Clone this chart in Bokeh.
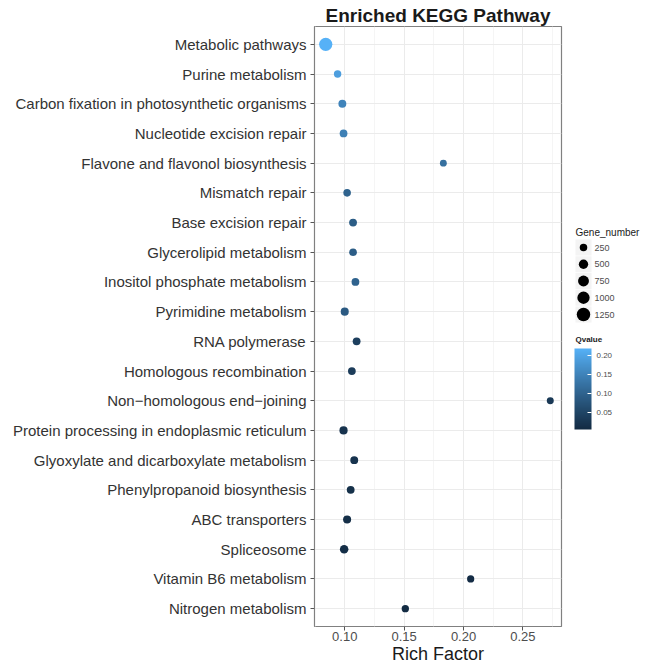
import numpy as np
from bokeh.plotting import figure
from bokeh.layouts import row
from bokeh.models import (FactorRange, Range1d, LinearColorMapper, ColorBar, FixedTicker,
                          PrintfTickFormatter, ColumnDataSource)
from bokeh.core.properties import value
from bokeh.embed import file_html
from bokeh.resources import INLINE

# ---------------- data ----------------
pathways = [
    "Metabolic pathways",
    "Purine metabolism",
    "Carbon fixation in photosynthetic organisms",
    "Nucleotide excision repair",
    "Flavone and flavonol biosynthesis",
    "Mismatch repair",
    "Base excision repair",
    "Glycerolipid metabolism",
    "Inositol phosphate metabolism",
    "Pyrimidine metabolism",
    "RNA polymerase",
    "Homologous recombination",
    "Non\u2212homologous end\u2212joining",
    "Protein processing in endoplasmic reticulum",
    "Glyoxylate and dicarboxylate metabolism",
    "Phenylpropanoid biosynthesis",
    "ABC transporters",
    "Spliceosome",
    "Vitamin B6 metabolism",
    "Nitrogen metabolism",
]
rich_factor = [0.084, 0.094, 0.098, 0.099, 0.183, 0.102, 0.107, 0.107, 0.109, 0.100,
               0.110, 0.106, 0.273, 0.099, 0.108, 0.105, 0.102, 0.0995, 0.206, 0.151]
gene_number = [1200, 240, 300, 280, 180, 260, 290, 270, 280, 320,
               290, 280, 190, 340, 300, 290, 320, 380, 220, 230]
qvalue = [0.218, 0.190, 0.150, 0.145, 0.120, 0.100, 0.090, 0.090, 0.100, 0.085,
          0.040, 0.035, 0.030, 0.020, 0.020, 0.015, 0.012, 0.010, 0.008, 0.005]

x_ticks = [0.10, 0.15, 0.20, 0.25]
x_minor = [0.075, 0.125, 0.175, 0.225, 0.275]
size_breaks = [250, 500, 750, 1000, 1250]
q_breaks = [0.05, 0.10, 0.15, 0.20]

FONT = "Liberation Sans"

# ---------------- colour ramp (CIELAB, like ggplot's default gradient) ----------------
def hex2rgb(h):
    h = h.lstrip("#")
    return np.array([int(h[i:i + 2], 16) for i in (0, 2, 4)]) / 255.0

M = np.array([[0.4124564, 0.3575761, 0.1804375],
              [0.2126729, 0.7151522, 0.0721750],
              [0.0193339, 0.1191920, 0.9503041]])
WHITE = np.array([0.95047, 1.0, 1.08883])

def rgb2lab(c):
    lin = np.where(c <= 0.04045, c / 12.92, ((c + 0.055) / 1.055) ** 2.4)
    xyz = M @ lin / WHITE
    f = np.where(xyz > (6 / 29) ** 3, np.cbrt(xyz), xyz / (3 * (6 / 29) ** 2) + 4 / 29)
    return np.array([116 * f[1] - 16, 500 * (f[0] - f[1]), 200 * (f[1] - f[2])])

def lab2hex(lab):
    L, a, b = lab
    fy = (L + 16) / 116
    fx = fy + a / 500
    fz = fy - b / 200
    f = np.array([fx, fy, fz])
    xyz = np.where(f > 6 / 29, f ** 3, 3 * (6 / 29) ** 2 * (f - 4 / 29)) * WHITE
    lin = np.clip(np.linalg.solve(M, xyz), 0, 1)
    c = np.where(lin <= 0.0031308, 12.92 * lin, 1.055 * lin ** (1 / 2.4) - 0.055)
    c = np.clip(np.round(c * 255), 0, 255).astype(int)
    return "#%02x%02x%02x" % tuple(c)

lo, hi = rgb2lab(hex2rgb("#132B43")), rgb2lab(hex2rgb("#56B1F7"))
palette = [lab2hex(lo + (hi - lo) * t) for t in np.linspace(0, 1, 256)]
mapper = LinearColorMapper(palette=palette, low=min(qvalue), high=max(qvalue))

def dot_size(g):
    return np.sqrt(24.75 + 0.126 * np.asarray(g, dtype=float))

# ---------------- geometry ----------------
H = 666
W_MAIN = 567
W_SIDE = 83
TOP = 26          # frame top
BOTTOM = 40       # space below frame (ticks, tick labels, axis title)
LEFT = 314
RIGHT = 6
frame_top, frame_bot = TOP, H - BOTTOM

# ---------------- main plot ----------------
xmin, xmax = min(rich_factor), max(rich_factor)
pad = (xmax - xmin) * 0.05
factors = list(reversed(pathways))

p = figure(width=W_MAIN, height=H, output_backend="svg", toolbar_location=None,
           y_range=FactorRange(factors=factors, range_padding=0.1, range_padding_units="absolute"),
           x_range=Range1d(xmin - pad, xmax + pad),
           min_border_left=LEFT, min_border_right=RIGHT,
           min_border_bottom=BOTTOM, min_border_top=TOP,
           title="Enriched KEGG Pathway")
p.title.align = "center"
p.title.text_font = FONT
p.title.text_font_size = "19px"
p.title.text_font_style = "bold"
p.title.text_color = "#1a1a1a"
p.title.standoff = 1
p.title.offset = 0

src = ColumnDataSource(dict(path=pathways, rf=rich_factor, q=qvalue,
                            sz=dot_size(gene_number)))
p.scatter(x="rf", y="path", size="sz", source=src, line_color=None,
          fill_color={"field": "q", "transform": mapper})

p.background_fill_color = "white"
p.border_fill_color = "white"
p.outline_line_color = "#808080"
p.outline_line_width = 1.2

p.xaxis.ticker = FixedTicker(ticks=x_ticks, minor_ticks=x_minor)
p.xaxis.formatter = PrintfTickFormatter(format="%.2f")
p.xaxis.major_label_text_font = FONT
p.xaxis.major_label_text_font_size = "13px"
p.xaxis.major_label_text_color = "#4d4d4d"
p.xaxis.major_label_standoff = 1
p.xaxis.axis_label = "Rich Factor"
p.xaxis.axis_label_text_font = FONT
p.xaxis.axis_label_text_font_size = "18px"
p.xaxis.axis_label_text_font_style = "normal"
p.xaxis.axis_label_text_color = "#1a1a1a"
p.xaxis.axis_label_standoff = 0

p.yaxis.major_label_text_font = FONT
p.yaxis.major_label_text_font_size = "15px"
p.yaxis.major_label_text_color = "#333333"
p.yaxis.major_label_standoff = 4

for ax in (p.xaxis, p.yaxis):
    ax.axis_line_color = None
    ax.major_tick_line_color = "#555555"
    ax.major_tick_out = 4
    ax.major_tick_in = 0
    ax.minor_tick_line_color = None

p.xgrid.grid_line_color = "#ebebeb"
p.xgrid.minor_grid_line_color = "#f5f5f5"
p.ygrid.grid_line_color = "#ebebeb"

# ---------------- legend panel (data coordinates = page pixels) ----------------
s = figure(width=W_SIDE, height=H, output_backend="svg", toolbar_location=None,
           x_range=Range1d(W_MAIN, W_MAIN + W_SIDE), y_range=Range1d(frame_bot, frame_top),
           min_border_left=0, min_border_right=0,
           min_border_top=TOP, min_border_bottom=BOTTOM)
s.axis.visible = False
s.grid.visible = False
s.outline_line_color = None
s.background_fill_color = "white"
s.border_fill_color = "white"

row_y = 247 + 16.75 * np.arange(len(size_breaks))
s.rect(x=583, y=row_y, width=16, height=16, fill_color="#f4f4f4", line_color=None)
s.scatter(x=583, y=row_y, size=dot_size(size_breaks), fill_color="black", line_color=None)
s.text(x=594, y=row_y, text=[str(v) for v in size_breaks], text_font=value(FONT),
       text_font_size="9px", text_color="#4d4d4d", text_baseline="middle", text_align="left")
s.text(x=[575], y=[232], text=["Gene_number"], text_font=value(FONT), text_font_size="10px",
       text_color="#1a1a1a", text_baseline="middle", text_align="left")
s.text(x=[575], y=[339], text=["Qvalue"], text_font=value(FONT), text_font_size="8px",
       text_font_style="bold", text_color="#1a1a1a", text_baseline="middle", text_align="left")

cb = ColorBar(color_mapper=mapper, ticker=FixedTicker(ticks=q_breaks),
              formatter=PrintfTickFormatter(format="%.2f"),
              width=17, height=81, padding=0, location=(574 - W_MAIN, frame_bot - 429),
              major_label_text_font=FONT, major_label_text_font_size="8px",
              major_label_text_color="#4d4d4d", label_standoff=5,
              major_tick_line_color="white", major_tick_in=4, major_tick_out=0,
              bar_line_color=None, border_line_color=None, background_fill_alpha=0)
s.add_layout(cb, "center")

layout = row(p, s)
open("out.html", "w").write(file_html(layout, INLINE))
